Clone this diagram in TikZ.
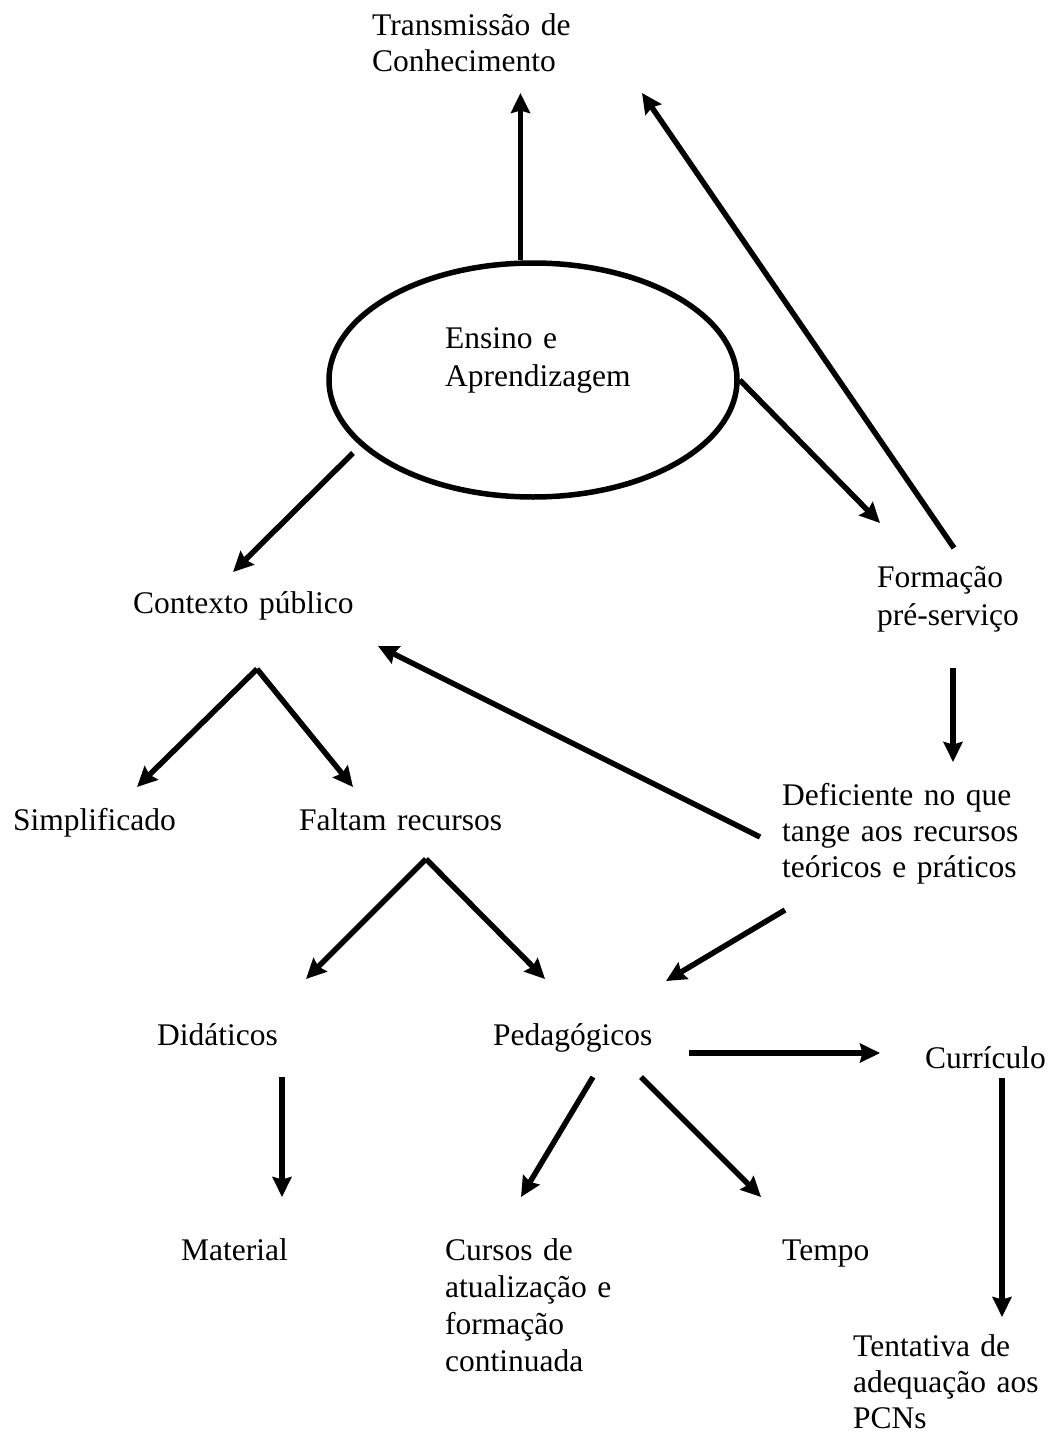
\documentclass[tikz,border=0pt]{standalone}
\usepackage{fontspec}
\setmainfont{Liberation Serif}
\usetikzlibrary{arrows.meta,shapes.geometric}
\begin{document}
\begin{tikzpicture}[x=1pt,y=-1pt,
  lbl/.style={anchor=base west, inner sep=0pt, text width=270pt, align=left,
              font=\fontsize{31.5}{36}\selectfont},
  wide/.style={font=\fontsize{31.5}{38}\selectfont},
  arr/.style={line width=5.5pt, -{Stealth[length=20pt,width=19pt,inset=2.5pt]}},
  bubble/.style={draw, ellipse, line width=5.5pt, minimum width=408pt,
                 minimum height=234pt, inner sep=0pt}]
\useasboundingbox[fill=white] (0,0) rectangle (1050,1434);

% central ellipse and its text
\node[bubble] (ens) at (533,380) {};
\node[lbl, wide] (ensTxt) at (445,348) {Ensino e\\Aprendizagem};

% concept labels
\node[lbl] (trans) at (372,36) {Transmissão de\\Conhecimento};
\node[lbl, wide] (form) at (877,587) {Formação\\pré-serviço};
\node[lbl] (ctx) at (133,613) {Contexto público};
\node[lbl] (simp) at (13,830) {Simplificado};
\node[lbl] (falt) at (299,830) {Faltam recursos};
\node[lbl] (def) at (782,805) {Deficiente no que\\tange aos recursos\\teóricos e práticos};
\node[lbl] (did) at (157,1045) {Didáticos};
\node[lbl] (ped) at (493,1045) {Pedagógicos};
\node[lbl] (curr) at (925,1068) {Currículo};
\node[lbl] (mat) at (181,1260) {Material};
\node[lbl, font=\fontsize{31.5}{37}\selectfont] (cur) at (445,1260) {Cursos de\\atualização e\\formação\\continuada};
\node[lbl] (tempo) at (782,1260) {Tempo};
\node[lbl] (tent) at (853,1356) {Tentativa de\\adequação aos\\PCNs};

% free ends of the connectors
\coordinate (transIn) at (520,93);
\coordinate (transIn2) at (642,93);
\coordinate (formOut) at (954,548);
\coordinate (formIn) at (880,523);
\coordinate (ensLeft) at (353,453);
\coordinate (ctxIn) at (233,572);
\coordinate (formDown) at (953,668);
\coordinate (defIn) at (953,762);
\coordinate (defOut) at (760,837);
\coordinate (ctxIn2) at (378,646);
\coordinate (ctxOut) at (257,669);
\coordinate (simpIn) at (137,787);
\coordinate (faltIn) at (353,787);
\coordinate (faltOut) at (426,859);
\coordinate (didIn) at (306,979);
\coordinate (pedIn) at (545,979);
\coordinate (defOut2) at (785,910);
\coordinate (pedIn2) at (666,981);
\coordinate (didOut) at (282,1077);
\coordinate (matIn) at (282,1197);
\coordinate (pedOutL) at (593,1077);
\coordinate (curIn) at (521,1197);
\coordinate (pedOutR) at (641,1077);
\coordinate (tempoIn) at (761,1197);
\coordinate (pedOutE) at (689,1053);
\coordinate (currIn) at (880,1053);
\coordinate (currOut) at (1002,1078);
\coordinate (tentIn) at (1002,1317);

% connectors
\draw[arr] (ens.96.4) -- (ens.96.4 |- transIn);
\draw[arr] (formOut) -- (transIn2);
\draw[arr] (ens.east) -- (formIn);
\draw[arr] (ensLeft) -- (ctxIn);
\draw[arr] (formDown) -- (defIn);
\draw[arr] (defOut) -- (ctxIn2);
\draw[arr] (ctxOut) -- (simpIn);
\draw[arr] (ctxOut) -- (faltIn);
\draw[arr] (faltOut) -- (didIn);
\draw[arr] (faltOut) -- (pedIn);
\draw[arr] (defOut2) -- (pedIn2);
\draw[arr] (didOut) -- (matIn);
\draw[arr] (pedOutL) -- (curIn);
\draw[arr] (pedOutR) -- (tempoIn);
\draw[arr] (pedOutE) -- (currIn);
\draw[arr] (currOut) -- (tentIn);
\end{tikzpicture}
\end{document}
